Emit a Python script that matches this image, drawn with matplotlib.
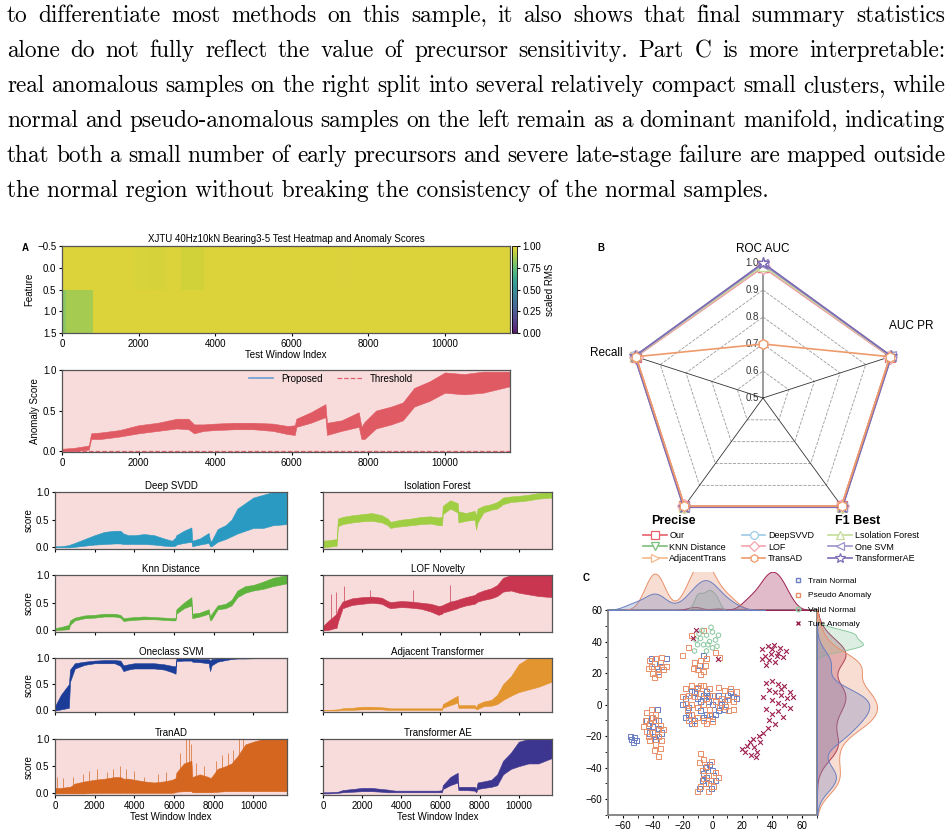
import numpy as np
import pandas as pd
import matplotlib
matplotlib.use('Agg')
import matplotlib.pyplot as plt
import matplotlib.transforms as mtransforms
from matplotlib.colors import ListedColormap
from matplotlib.lines import Line2D
import seaborn as sns

W, H = 951, 836

# ---------------- paragraph above the figure ----------------
PARAGRAPH = [
    "to differentiate most methods on this sample, it also shows that final summary statistics",
    "alone do not fully reflect the value of precursor sensitivity.  Part C is more interpretable:",
    "real anomalous samples on the right split into several relatively compact small clusters, while",
    "normal and pseudo-anomalous samples on the left remain as a dominant manifold, indicating",
    "that both a small number of early precursors and severe late-stage failure are mapped outside",
    "the normal region without breaking the consistency of the normal samples.",
]
LINE_BASELINES = [22, 57, 92, 127, 162, 197]

# ---------------- panel A: heatmap ----------------
HEAT_EDGES = [0, 100, 800, 1900, 2300, 2700, 3100, 3700, 7200, 7500, 11700]
HEAT_ROW0 = [0.97, 0.97, 0.97, 0.962, 0.958, 0.97, 0.95, 0.97, 0.965, 0.97]
HEAT_ROW1 = [0.82, 0.87, 0.97, 0.97, 0.97, 0.97, 0.97, 0.97, 0.97, 0.97]

# ---------------- score curves (lower / upper envelope) ----------------
X = [0, 300, 700, 760, 1000, 1500, 2000, 2500, 3000, 3300, 3450, 3700, 4000, 4500,
     5000, 5500, 5900, 6080, 6120, 6500, 6880, 6920, 7300, 7750, 7820, 7900, 8200,
     8600, 8900, 9200, 9600, 10000, 10500, 11000, 11700]

PROP_LO = [0.0, 0.0, 0.02, 0.15, 0.15, 0.18, 0.22, 0.25, 0.28, 0.27, 0.22, 0.25, 0.26, 0.27,
           0.27, 0.25, 0.21, 0.20, 0.30, 0.35, 0.42, 0.20, 0.25, 0.30, 0.15, 0.15, 0.28,
           0.33, 0.38, 0.55, 0.62, 0.72, 0.70, 0.72, 0.80]
PROP_HI = [0.03, 0.04, 0.07, 0.22, 0.23, 0.26, 0.32, 0.35, 0.40, 0.40, 0.33, 0.33, 0.34, 0.35,
           0.35, 0.34, 0.31, 0.32, 0.40, 0.48, 0.58, 0.35, 0.38, 0.48, 0.30, 0.36, 0.50,
           0.55, 0.60, 0.78, 0.86, 0.97, 0.95, 0.98, 0.98]
THRESHOLD = 0.0

SVDD_LO = [0, 0, 0, 0, 0.01, 0.03, 0.05, 0.06, 0.07, 0.07, 0.06, 0.06, 0.06, 0.06,
           0.05, 0.03, 0.02, 0.03, 0.05, 0.08, 0.10, 0.02, 0.05, 0.08, 0.02, 0.02, 0.10,
           0.15, 0.20, 0.25, 0.30, 0.35, 0.35, 0.40, 0.42]
SVDD_HI = [0.02, 0.02, 0.04, 0.05, 0.08, 0.15, 0.22, 0.28, 0.30, 0.30, 0.25, 0.22, 0.22, 0.24,
           0.22, 0.16, 0.12, 0.18, 0.22, 0.30, 0.36, 0.12, 0.16, 0.26, 0.12, 0.12, 0.33,
           0.40, 0.50, 0.70, 0.80, 0.90, 0.95, 1.0, 1.0]

KNN_LO = [0, 0.01, 0.02, 0.10, 0.18, 0.22, 0.23, 0.25, 0.25, 0.23, 0.17, 0.18, 0.19, 0.20,
          0.20, 0.19, 0.18, 0.18, 0.30, 0.40, 0.45, 0.22, 0.25, 0.30, 0.18, 0.20, 0.38,
          0.40, 0.45, 0.60, 0.68, 0.72, 0.75, 0.80, 0.85]
KNN_HI = [0.04, 0.06, 0.10, 0.18, 0.23, 0.27, 0.28, 0.30, 0.30, 0.28, 0.22, 0.23, 0.24, 0.25,
          0.24, 0.23, 0.22, 0.22, 0.38, 0.50, 0.60, 0.30, 0.32, 0.38, 0.25, 0.30, 0.45,
          0.48, 0.55, 0.72, 0.80, 0.82, 0.88, 0.95, 1.0]

OCSVM_LO = [0, 0.02, 0.05, 0.55, 0.80, 0.87, 0.90, 0.90, 0.90, 0.85, 0.75, 0.78, 0.80, 0.80,
            0.80, 0.78, 0.73, 0.70, 0.94, 0.95, 0.95, 0.93, 0.92, 0.90, 0.75, 0.86, 0.93,
            0.96, 0.98, 0.99, 0.99, 0.995, 0.995, 0.995, 0.995]
OCSVM_HI = [0.08, 0.30, 0.50, 0.78, 0.90, 0.93, 0.95, 0.96, 0.96, 0.95, 0.86, 0.88, 0.90, 0.90,
            0.90, 0.88, 0.85, 0.84, 1.0, 1.0, 1.0, 0.99, 0.98, 0.98, 0.95, 0.98, 0.99,
            1.0, 1.0, 1.0, 1.0, 1.0, 1.0, 1.0, 1.0]

TRANAD_LO = [0, 0, 0, 0, 0, 0, 0.01, 0.01, 0.01, 0.01, 0.01, 0.01, 0.01, 0.01,
             0.01, 0.01, 0.01, 0.02, 0.03, 0.04, 0.04, 0.02, 0.02, 0.02, 0.02, 0.02, 0.03,
             0.04, 0.04, 0.04, 0.04, 0.04, 0.04, 0.04, 0.04]
TRANAD_HI = [0.10, 0.10, 0.12, 0.12, 0.18, 0.22, 0.25, 0.27, 0.30, 0.30, 0.27, 0.27, 0.25, 0.22,
             0.20, 0.22, 0.25, 0.28, 0.38, 0.55, 0.60, 0.30, 0.35, 0.30, 0.28, 0.30, 0.45,
             0.50, 0.55, 0.68, 0.90, 0.95, 1.0, 1.0, 1.0]
TRANAD_SPIKE_X = [100, 400, 900, 1400, 1700, 2100, 2600, 2900, 3300, 3600, 4000, 4500, 5200,
                  5600, 6300, 6600, 6750, 6850, 7100, 7500, 8100, 8400, 8700, 9000, 9300, 9500]
TRANAD_SPIKE_Y = [0.30, 0.28, 0.30, 0.35, 0.42, 0.45, 0.40, 0.45, 0.50, 0.45, 0.42, 0.30, 0.35,
                  0.40, 0.75, 1.0, 1.0, 0.90, 0.55, 0.50, 0.60, 0.70, 0.75, 0.80, 1.0, 1.0]

IFOREST_LO = [0, 0.01, 0.03, 0.38, 0.42, 0.45, 0.47, 0.48, 0.45, 0.40, 0.35, 0.37, 0.38, 0.40,
              0.42, 0.43, 0.40, 0.40, 0.60, 0.70, 0.63, 0.45, 0.48, 0.50, 0.32, 0.45, 0.63,
              0.68, 0.70, 0.78, 0.82, 0.83, 0.85, 0.88, 0.90]
IFOREST_HI = [0.12, 0.13, 0.15, 0.52, 0.55, 0.58, 0.60, 0.62, 0.58, 0.52, 0.46, 0.48, 0.50, 0.52,
              0.55, 0.56, 0.54, 0.55, 0.75, 0.85, 0.80, 0.65, 0.62, 0.66, 0.58, 0.70, 0.75,
              0.78, 0.82, 0.90, 0.92, 0.93, 0.95, 0.98, 1.0]

LOF_LO = [0, 0.01, 0.05, 0.15, 0.40, 0.46, 0.48, 0.50, 0.48, 0.42, 0.40, 0.41, 0.42, 0.41,
          0.39, 0.34, 0.28, 0.30, 0.32, 0.36, 0.40, 0.41, 0.45, 0.48, 0.50, 0.52, 0.55,
          0.58, 0.62, 0.70, 0.72, 0.68, 0.65, 0.62, 0.60]
LOF_HI = [0.08, 0.18, 0.30, 0.38, 0.52, 0.58, 0.60, 0.61, 0.59, 0.53, 0.51, 0.52, 0.53, 0.52,
          0.50, 0.48, 0.44, 0.45, 0.46, 0.52, 0.55, 0.56, 0.60, 0.64, 0.66, 0.68, 0.72,
          0.76, 0.82, 0.95, 1.0, 1.0, 1.0, 1.0, 1.0]
LOF_SPIKE_X = [400, 650, 1050, 2400, 4600, 6500]
LOF_SPIKE_Y = [0.65, 0.70, 0.80, 0.72, 0.72, 0.82]

ADJ_LO = [0, 0, 0, 0, 0.01, 0.01, 0.02, 0.02, 0.02, 0.01, 0.01, 0.01, 0.01, 0.01,
          0.01, 0.01, 0.01, 0.01, 0.05, 0.10, 0.15, 0.05, 0.05, 0.05, 0.02, 0.03, 0.08,
          0.09, 0.12, 0.20, 0.28, 0.35, 0.40, 0.45, 0.55]
ADJ_HI = [0.01, 0.01, 0.02, 0.02, 0.04, 0.05, 0.07, 0.07, 0.06, 0.05, 0.04, 0.04, 0.04, 0.04,
          0.04, 0.04, 0.04, 0.04, 0.12, 0.20, 0.28, 0.10, 0.10, 0.10, 0.06, 0.12, 0.17,
          0.20, 0.30, 0.50, 0.65, 0.88, 1.0, 1.0, 1.0]

TAE_LO = [0, 0, 0.01, 0.01, 0.02, 0.03, 0.04, 0.04, 0.03, 0.02, 0.02, 0.02, 0.02, 0.02,
          0.02, 0.02, 0.02, 0.02, 0.08, 0.15, 0.20, 0.06, 0.06, 0.05, 0.02, 0.08, 0.10,
          0.12, 0.15, 0.35, 0.45, 0.50, 0.55, 0.55, 0.65]
TAE_HI = [0.02, 0.02, 0.03, 0.03, 0.06, 0.08, 0.10, 0.10, 0.08, 0.07, 0.06, 0.05, 0.05, 0.05,
          0.05, 0.05, 0.05, 0.06, 0.15, 0.30, 0.38, 0.12, 0.12, 0.12, 0.08, 0.20, 0.22,
          0.25, 0.35, 0.60, 0.75, 0.95, 1.0, 1.0, 1.0]

# ---------------- panel B: radar ----------------
METRICS = ['ROC AUC', 'AUC PR', 'F1 Best', 'Precise', 'Recall']
RADAR_METHODS = ['Our', 'KNN Distance', 'AdjacentTrans', 'DeepSVVD', 'LOF', 'TransAD',
                 'Lsolation Forest', 'One SVM', 'TransformerAE']
RADAR_VALUES = [
    [0.985, 0.995, 0.995, 0.995, 0.995],
    [0.99, 0.997, 0.997, 0.997, 0.997],
    [0.993, 0.997, 0.997, 0.997, 0.997],
    [0.99, 0.998, 0.998, 0.998, 0.998],
    [0.985, 0.996, 0.996, 0.996, 0.996],
    [0.70, 0.995, 0.995, 0.995, 0.995],
    [0.99, 0.998, 0.998, 0.998, 0.998],
    [0.997, 1.0, 1.0, 1.0, 1.0],
    [1.0, 1.0, 1.0, 1.0, 1.0],
]
RADAR_COLORS = ['#e8606a', '#7bbf7b', '#f6b98e', '#9ccbe6', '#f2a3ae', '#ef9a6b',
                '#c5dc98', '#9b93c9', '#7e6bb5']
RADAR_MARKERS = ['s', 'v', '>', 'o', 'D', 'h', '^', '<', '*']
RADIAL_TICKS = [0.5, 0.6, 0.7, 0.8, 0.9, 1.0]

# ---------------- panel C: embedding ----------------
TRAIN_PTS = [(-39, 26), (-34, 24), (-31, 29), (-36, 21), (-41, 29),
             (-41, -8), (-36, -15), (-39, -20), (-34, -18), (-43, -13), (-37, -3),
             (-44, -10), (-40, -14), (-38, -22), (-42, -18), (-36, -10),
             (-54, -22), (-52, -21), (-53, -24), (-51, -23), (-55, -20),
             (-12, 8), (-4, 8), (-16, -2), (-8, -4), (-12, -10), (10, 6), (14, 5), (-3, 2),
             (6, 0), (2, -6), (-18, -8), (8, -3), (-18, 4), (-14, 8), (-10, 4), (-6, 6),
             (-2, 6), (-16, -6), (-8, 2), (-4, -6), (0, 0), (4, 6), (8, 2), (12, 8), (16, 4),
             (-10, 10), (-6, -8), (0, -9), (4, -4), (-14, -12), (-20, 0),
             (-2, -38), (0, -42), (-4, -46), (2, -48), (-6, -44), (-1, -53), (-5, -40),
             (1, -45), (-3, -50), (-7, -48), (-9, -53),
             (-9, 25), (-6, 31)]
PSEUDO_PTS = [(-42, 28), (-38, 29), (-35, 27), (-41, 24), (-37, 23), (-33, 22), (-40, 20),
              (-36, 19), (-43, 23), (-34, 30), (-39, 17), (-31, 24),
              (-44, -5), (-41, -3), (-38, -6), (-45, -10), (-42, -12), (-38, -10), (-35, -13),
              (-44, -17), (-40, -18), (-36, -20), (-42, -23), (-38, -25), (-35, -28), (-36, -33),
              (-46, -14), (-33, -16), (-40, -8), (-37, -16), (-43, -20), (-39, -29), (-34, -23),
              (-12, 27), (-8, 28), (-5, 25), (-10, 22), (-6, 21), (-13, 23), (-4, 29), (-8, 19),
              (-18, 10), (-14, 12), (-10, 11), (-6, 12), (-2, 10), (-16, 6), (-12, 5), (-8, 7),
              (-4, 4), (0, 6), (-18, 1), (-14, 0), (-10, -2), (-6, 0), (-2, -3), (-14, -6),
              (-10, -8), (-6, -10), (-2, -7), (4, 11), (8, 9), (12, 10), (16, 8), (6, 4),
              (10, 3), (14, 2), (5, -2), (9, -1), (14, -3), (-16, -10), (0, -11), (-20, 5),
              (-12, -12), (2, 2), (-8, 12), (11, -4), (-17, -4), (-4, -12),
              (-8, -31), (-6, -35), (-4, -39), (-7, -42), (-3, -45), (2, -43), (-1, -48),
              (-5, -50), (-8, -52), (-10, -55), (-3, -55), (1, -52), (4, -46), (-6, -47),
              (-9, -37), (-1, -36),
              (-14, 44), (-6, 47), (2, 33), (-16, 36), (5, 30), (-20, 31)]
VALID_PTS = [(-8, 42), (-4, 44), (0, 46), (-10, 38), (-6, 38), (-2, 40), (2, 41), (-4, 34),
             (0, 36), (-12, 34), (-7, 47), (3, 37), (-1, 49), (-9, 45), (4, 44), (-3, 38),
             (-11, 41)]
TRUE_PTS = [(33, 35), (37, 37), (41, 38), (45, 36), (49, 34), (35, 31), (39, 32), (43, 31),
            (47, 30), (38, 28), (42, 27), (33, 29), (40, 35), (44, 33), (36, 25),
            (36, 14), (40, 15), (44, 13), (48, 12), (52, 8), (38, 9), (42, 8), (46, 6),
            (50, 4), (54, 5), (40, 3), (44, 1), (48, 0), (36, -3), (40, -6), (44, -4),
            (38, -10), (42, -12), (37, -15), (52, -2), (46, 10), (34, 5), (47, -8),
            (34, -18), (31, -20), (27, -22), (23, -26), (28, -27), (32, -24), (22, -30),
            (26, -32), (30, -30), (20, -28), (25, -24), (29, -33),
            (-13, 42), (-11, 47), (4, 29)]
CLASS_NAMES = ['Train Normal', 'Pseudo Anomaly', 'Valid Normal', 'Ture Anomaly']
CLASS_COLORS = ['#6a7fc0', '#e8906a', '#8cc9a0', '#9c2050']
CLASS_MARKERS = ['s', 's', 'h', 'x']

PINK = '#f8dcdc'
XMAX = 11700

plt.rcParams['font.family'] = ['Liberation Sans', 'DejaVu Sans']
plt.rcParams['font.size'] = 7
plt.rcParams['xtick.labelsize'] = 7
plt.rcParams['ytick.labelsize'] = 7
plt.rcParams['axes.labelsize'] = 7
plt.rcParams['xtick.major.size'] = 2.5
plt.rcParams['ytick.major.size'] = 2.5
plt.rcParams['xtick.major.pad'] = 1.5
plt.rcParams['ytick.major.pad'] = 1.5

fig = plt.figure(figsize=(W / 100, H / 100), dpi=100)
renderer = fig.canvas.get_renderer()


def px_rect(x0, y0, x1, y1):
    return [x0 / W, 1 - y1 / H, (x1 - x0) / W, (y1 - y0) / H]


def text_width(s, size):
    t = fig.text(0, 0, s, fontsize=size, family='cmr10')
    w = t.get_window_extent(renderer).width
    t.remove()
    return w


# ---- justified paragraph ----
left_px, right_px = 7, 945
fs = 10 * 765 / text_width(PARAGRAPH[-1], 10)
for i, (line, base) in enumerate(zip(PARAGRAPH, LINE_BASELINES)):
    yb = 1 - base / H
    if i == len(PARAGRAPH) - 1:
        fig.text(left_px / W, yb, line, fontsize=fs, family='cmr10', va='baseline')
        continue
    words = line.split()
    widths = [text_width(w, fs) for w in words]
    gap = (right_px - left_px - sum(widths)) / (len(words) - 1)
    x = left_px
    for w, wd in zip(words, widths):
        fig.text(x / W, yb, w, fontsize=fs, family='cmr10', va='baseline')
        x += wd + gap


def style_axis(ax):
    for s in ax.spines.values():
        s.set_color('#555555')
        s.set_linewidth(0.9)


# slightly muted viridis, as the printed figure looks
vir = plt.get_cmap('viridis')(np.linspace(0, 1, 256))[:, :3]
muted = ListedColormap(vir * 0.8 + 0.2 * np.array([0.6, 0.55, 0.75]))

# ---- panel A: heatmap ----
ax_hm = fig.add_axes(px_rect(62, 246, 510, 333))
Z = np.array([HEAT_ROW0, HEAT_ROW1])
mesh = ax_hm.pcolormesh(HEAT_EDGES, [-0.5, 0.5, 1.5], Z, cmap=muted, vmin=0, vmax=1)
ax_hm.set_xlim(0, XMAX)
ax_hm.set_ylim(1.5, -0.5)
ax_hm.set_yticks([-0.5, 0.0, 0.5, 1.0, 1.5])
ax_hm.set_xticks(range(0, 10001, 2000))
ax_hm.set_xlabel('Test Window Index', labelpad=1)
ax_hm.set_ylabel('Feature', labelpad=2)
ax_hm.set_title('XJTU 40Hz10kN Bearing3-5 Test Heatmap and Anomaly Scores', fontsize=7, pad=3)
style_axis(ax_hm)
cax = fig.add_axes(px_rect(512, 246, 517, 333))
cb = fig.colorbar(mesh, cax=cax, ticks=[0, 0.25, 0.5, 0.75, 1.0], format='%.2f')
cb.set_label('scaled RMS', fontsize=7, labelpad=3)
cb.outline.set_linewidth(0.6)
fig.text(22 / W, 1 - 248 / H, 'A', fontsize=7, fontweight='bold', va='center')

# ---- anomaly score ----
ax_an = fig.add_axes(px_rect(62, 370, 510, 452))
ax_an.set_facecolor(PINK)
ax_an.fill_between(X, PROP_LO, PROP_HI, color='#e05a63', lw=0.4)
ax_an.axhline(THRESHOLD, color='#e06070', ls='--', lw=0.9)
ax_an.set_xlim(0, XMAX)
ax_an.set_ylim(-0.01, 1.0)
ax_an.set_yticks([0, 0.5, 1.0])
ax_an.set_xticks(range(0, 10001, 2000))
ax_an.set_ylabel('Anomaly Score', labelpad=2)
style_axis(ax_an)
ax_an.legend(handles=[Line2D([], [], color='#6a9ed0', lw=1.2, label='Proposed'),
                      Line2D([], [], color='#e06070', ls='--', lw=0.9, label='Threshold')],
             loc='upper center', bbox_to_anchor=(0.6, 1.06), ncol=2, frameon=False,
             fontsize=7, handlelength=2.5, columnspacing=1.5)

# ---- per-method score panels ----
PANELS = [
    ('Deep SVDD', SVDD_LO, SVDD_HI, '#2b9ac2', None, None, 0, 0),
    ('Knn Distance', KNN_LO, KNN_HI, '#5db33c', None, None, 0, 1),
    ('Oneclass SVM', OCSVM_LO, OCSVM_HI, '#1b3d98', None, None, 0, 2),
    ('TranAD', TRANAD_LO, TRANAD_HI, '#d5661f', TRANAD_SPIKE_X, TRANAD_SPIKE_Y, 0, 3),
    ('Isolation Forest', IFOREST_LO, IFOREST_HI, '#9fce42', None, None, 1, 0),
    ('LOF Novelty', LOF_LO, LOF_HI, '#c8374f', LOF_SPIKE_X, LOF_SPIKE_Y, 1, 1),
    ('Adjacent Transformer', ADJ_LO, ADJ_HI, '#e3962f', None, None, 1, 2),
    ('Transformer AE', TAE_LO, TAE_HI, '#3d3690', None, None, 1, 3),
]
COLS = [(55, 287), (323, 552)]
ROWS = [(492, 549), (575, 632), (658, 712), (739, 795)]

for title, lo, hi, color, sx, sy, c, r in PANELS:
    ax = fig.add_axes(px_rect(COLS[c][0], ROWS[r][0], COLS[c][1], ROWS[r][1]))
    ax.set_facecolor(PINK)
    if sx is not None:
        ax.vlines(sx, np.interp(sx, X, lo), sy, color=color, lw=0.6, alpha=0.8)
    ax.fill_between(X, lo, hi, color=color, lw=0.4)
    ax.set_xlim(0, XMAX)
    ax.set_ylim(-0.03, 1.0)
    ax.set_yticks([0, 0.5, 1.0])
    ax.set_xticks(range(0, 10001, 2000))
    ax.set_title(title, fontsize=7, pad=2)
    style_axis(ax)
    if c == 0:
        ax.set_ylabel('score', labelpad=2)
    else:
        ax.set_yticklabels([])
    if r == 3:
        ax.set_xlabel('Test Window Index', labelpad=1)
    else:
        ax.set_xticklabels([])

# ---- panel B: radar ----
ax_r = fig.add_axes(px_rect(628, 263, 898, 533), projection='polar')
ax_r.set_theta_offset(np.pi / 2)
ax_r.set_theta_direction(-1)
ax_r.set_ylim(0.5, 1.0)
ax_r.set_axis_off()
angles = [2 * np.pi * k / len(METRICS) for k in range(len(METRICS))]
ring = angles + [angles[0]]
for rv in RADIAL_TICKS[1:]:
    ax_r.plot(ring, [rv] * len(ring), ls='--', color='#9a9a9a', lw=0.6, clip_on=False)
for k, a in enumerate(angles):
    if k == 0:
        ax_r.plot([a, a], [0.5, 1.0], color='#8a8a8a', lw=1.2, clip_on=False)
    else:
        ax_r.plot([a, a], [0.5, 1.0], color='#333333', lw=0.6, clip_on=False)
lab_tr = mtransforms.offset_copy(ax_r.transData, fig=fig, x=-3, y=0, units='points')
for rv in RADIAL_TICKS:
    ax_r.text(0, rv, f'{rv:.1f}', transform=lab_tr, ha='right', va='center',
              fontsize=7, color='#333333')
handles = []
z_order = [3, 3, 3, 3, 3, 6, 3, 4, 5]
for name, vals, col, mk, z in zip(RADAR_METHODS, RADAR_VALUES, RADAR_COLORS,
                                  RADAR_MARKERS, z_order):
    ln, = ax_r.plot(ring, vals + [vals[0]], color=col, lw=1.2, marker=mk,
                    markersize=7 if mk != '*' else 9, markerfacecolor='white',
                    markeredgewidth=0.9, clip_on=False, zorder=z, label=name)
    handles.append(ln)
label_offsets = [(0, 14, 'center', False), (20, 30, 'center', False),
                 (15, -14, 'center', True), (-10, -14, 'center', True),
                 (-12, 3, 'right', False)]
for a, metric, (dx, dy, ha, bold) in zip(angles, METRICS, label_offsets):
    ax_r.annotate(metric, (a, 1.0), xytext=(dx, dy), textcoords='offset pixels',
                  ha=ha, va='center', fontsize=9 if bold else 8.5,
                  fontweight='bold' if bold else 'normal', annotation_clip=False)
fig.legend(handles=handles, loc='center', bbox_to_anchor=(781 / W, 1 - 547 / H), ncol=3,
           frameon=False, fontsize=6.5, handlelength=2.6, handletextpad=0.3,
           columnspacing=1.6, labelspacing=0.25, markerscale=0.8)
fig.text(597 / W, 1 - 248 / H, 'B', fontsize=7, fontweight='bold', va='center')

# ---- panel C: embedding with marginal densities ----
groups = [TRAIN_PTS, PSEUDO_PTS, VALID_PTS, TRUE_PTS]
df = pd.concat([pd.DataFrame(g, columns=['x', 'y']).assign(cls=n)
                for g, n in zip(groups, CLASS_NAMES)], ignore_index=True)
palette = dict(zip(CLASS_NAMES, CLASS_COLORS))

ax_c = fig.add_axes(px_rect(608, 610, 817, 815))
for name, col, mk in zip(CLASS_NAMES, CLASS_COLORS, CLASS_MARKERS):
    sub = df[df['cls'] == name]
    if mk == 'x':
        ax_c.scatter(sub['x'], sub['y'], marker='x', s=12, color=col, lw=0.8, label=name)
    else:
        ax_c.scatter(sub['x'], sub['y'], marker=mk, s=13, facecolors='none',
                     edgecolors=col, lw=0.7, label=name)
ax_c.set_xlim(-70, 70)
ax_c.set_ylim(-70, 60)
ax_c.set_xticks(range(-60, 61, 20))
ax_c.set_yticks(range(-60, 61, 20))
ax_c.set_xticks(range(-70, 71, 10), minor=True)
ax_c.set_yticks(range(-70, 61, 10), minor=True)
for s in ax_c.spines.values():
    s.set_color('#888888')
    s.set_linewidth(1.4)

ax_top = fig.add_axes(px_rect(608, 572, 817, 610))
sns.kdeplot(data=df, x='x', hue='cls', palette=palette, fill=True, common_norm=True,
            alpha=0.3, linewidth=0.7, bw_adjust=0.75, legend=False, ax=ax_top)
ax_top.set_xlim(-70, 70)
ax_top.set_ylim(0, ax_top.get_ylim()[1] * 0.72)
ax_top.set_axis_off()

ax_right = fig.add_axes(px_rect(817, 610, 880, 815))
sns.kdeplot(data=df, y='y', hue='cls', palette=palette, fill=True, common_norm=True,
            alpha=0.3, linewidth=0.7, bw_adjust=0.75, legend=False, ax=ax_right)
ax_right.set_ylim(-70, 60)
ax_right.set_xlim(0, ax_right.get_xlim()[1])
ax_right.set_axis_off()

leg_handles = []
for name, col, mk in zip(CLASS_NAMES, CLASS_COLORS, CLASS_MARKERS):
    if mk == 'x':
        leg_handles.append(Line2D([], [], ls='none', marker='x', color=col,
                                  markersize=3.5, label=name))
    else:
        leg_handles.append(Line2D([], [], ls='none', marker=mk, markerfacecolor='none',
                                  markeredgecolor=col, markersize=3.5, label=name))
fig.legend(handles=leg_handles, loc='upper left', bbox_to_anchor=(782 / W, 1 - 570 / H),
           frameon=False, fontsize=6, handletextpad=0.2, labelspacing=0.75)
fig.text(583 / W, 1 - 578 / H, 'C', fontsize=7, fontweight='bold', va='center')

fig.savefig('out.png', dpi=100)
